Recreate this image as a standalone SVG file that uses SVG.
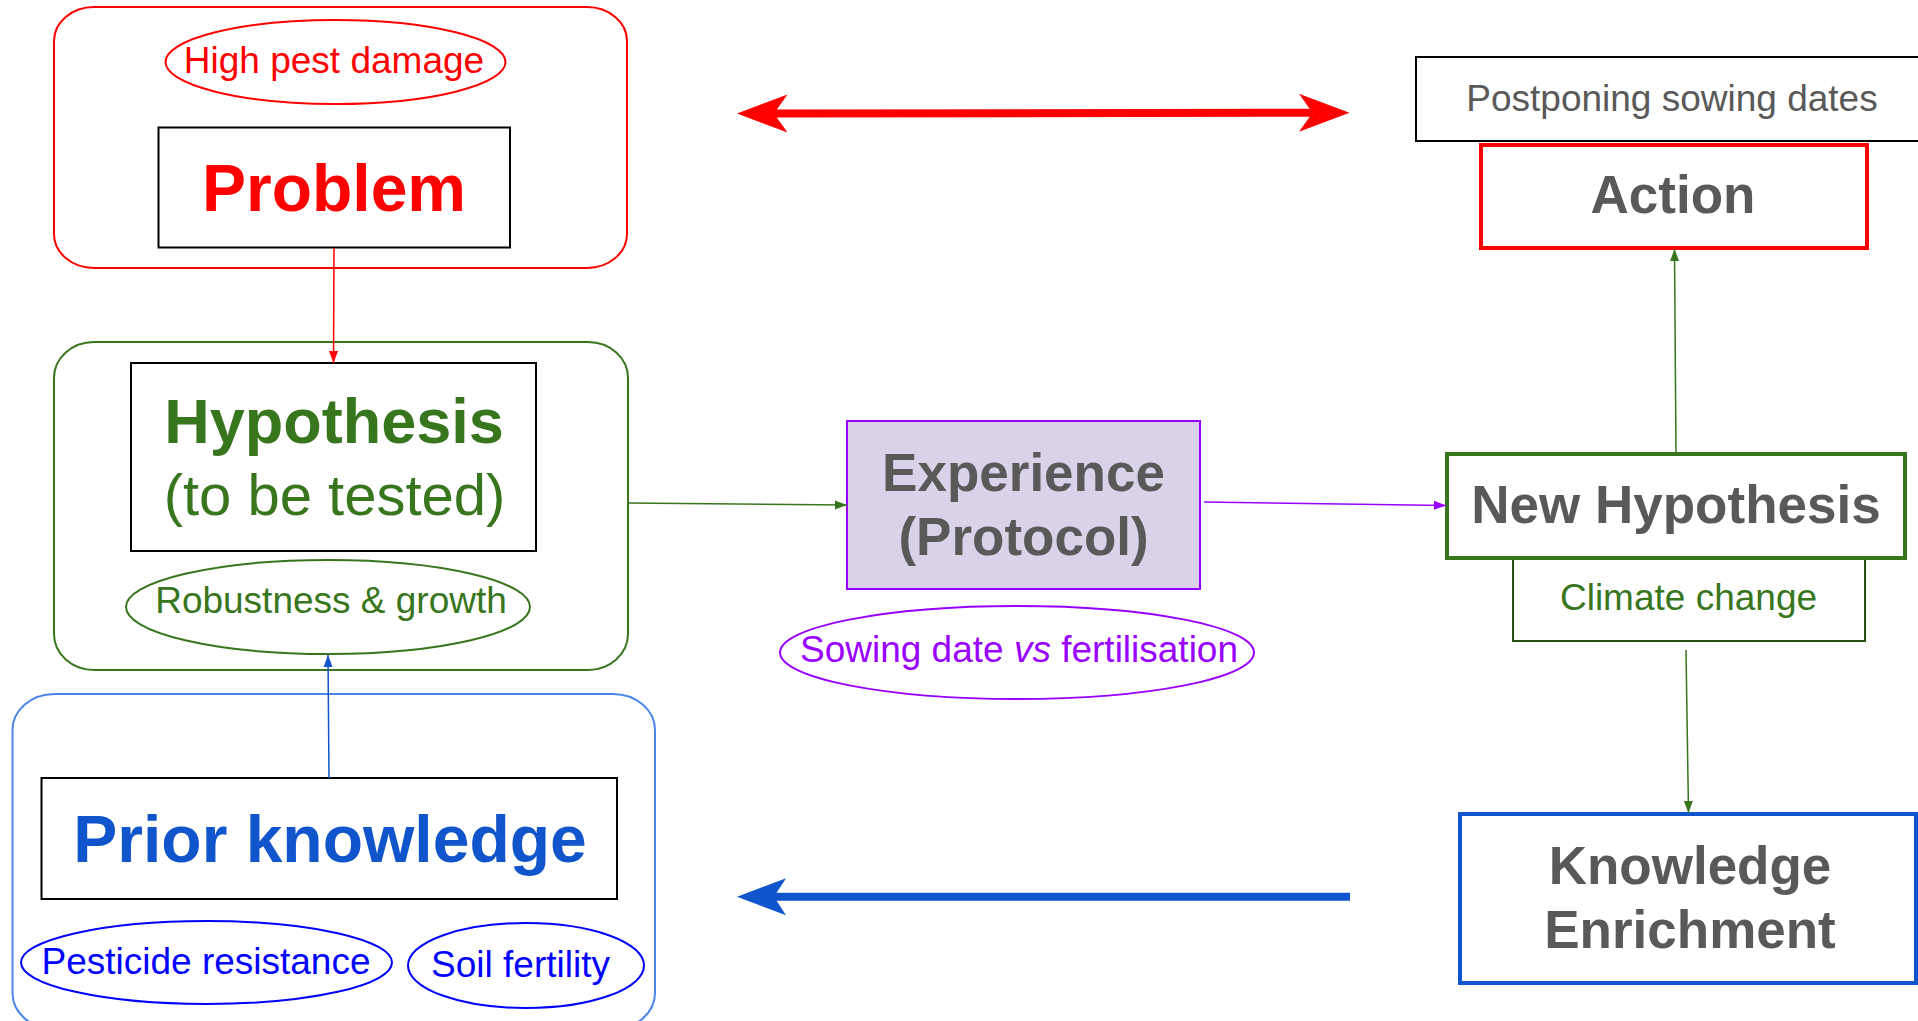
<svg xmlns="http://www.w3.org/2000/svg" width="1918" height="1021" viewBox="0 0 1918 1021">
  <defs>
    <style>
      text { font-family: "Liberation Sans", Arial, sans-serif; text-anchor: middle; }
      .frame { fill: none; stroke-width: 2; }
      .box { fill: #ffffff; stroke: #000000; stroke-width: 2; }
      .oval { fill: none; stroke-width: 2; }
      .small { font-size: 37px; }
      .title { font-weight: bold; font-size: 53px; fill: #595959; }
      .link { fill: none; stroke-width: 1.5; }
    </style>
    <!-- small connector heads -->
    <marker id="head-red" viewBox="-13 -6 14 12" markerWidth="14" markerHeight="12" refX="0" refY="0" orient="auto" markerUnits="userSpaceOnUse">
      <path d="M0,0 L-12,-4.5 L-12,4.5 Z" fill="#ff0000"/>
    </marker>
    <marker id="head-green" viewBox="-13 -6 14 12" markerWidth="14" markerHeight="12" refX="0" refY="0" orient="auto" markerUnits="userSpaceOnUse">
      <path d="M0,0 L-12,-4.5 L-12,4.5 Z" fill="#38761d"/>
    </marker>
    <marker id="head-purple" viewBox="-13 -6 14 12" markerWidth="14" markerHeight="12" refX="0" refY="0" orient="auto" markerUnits="userSpaceOnUse">
      <path d="M0,0 L-12,-4.5 L-12,4.5 Z" fill="#9900ff"/>
    </marker>
    <marker id="head-blue" viewBox="-13 -6 14 12" markerWidth="14" markerHeight="12" refX="0" refY="0" orient="auto" markerUnits="userSpaceOnUse">
      <path d="M0,0 L-12,-4.5 L-12,4.5 Z" fill="#1155cc"/>
    </marker>
    <!-- large barbed heads for the thick arrows (origin at the notch) -->
    <marker id="big-red" viewBox="-15 -20 54 40" markerWidth="54" markerHeight="40" refX="0" refY="0" orient="auto-start-reverse" markerUnits="userSpaceOnUse">
      <path d="M37,0 L-13.5,-19 L0,0 L-13.5,19 Z" fill="#ff0000"/>
    </marker>
    <marker id="big-blue" viewBox="-15 -20 54 40" markerWidth="54" markerHeight="40" refX="0" refY="0" orient="auto" markerUnits="userSpaceOnUse">
      <path d="M37,0 L-12,-18.5 L0,0 L-12,18.5 Z" fill="#1155cc"/>
    </marker>
  </defs>

  <rect width="1918" height="1021" fill="#ffffff"/>

  <!-- Problem -->
  <g id="problem">
    <rect class="frame" x="54" y="7" width="573" height="261" rx="40" ry="34" stroke="#ff0000"/>
    <ellipse class="oval" cx="335.5" cy="62" rx="170" ry="42" stroke="#ff0000"/>
    <text class="small" x="334" y="73" fill="#ff0000">High pest damage</text>
    <rect class="box" x="158.5" y="127.5" width="351.5" height="120"/>
    <text x="334" y="211" font-size="66" font-weight="bold" fill="#ff0000">Problem</text>
  </g>

  <!-- Hypothesis -->
  <g id="hypothesis">
    <rect class="frame" x="54" y="342" width="574" height="328" rx="40" ry="36" stroke="#38761d"/>
    <rect class="box" x="131" y="363" width="405" height="188"/>
    <text x="334" y="443" font-size="63" font-weight="bold" fill="#38761d">Hypothesis</text>
    <text x="334.5" y="515" font-size="58" fill="#38761d">(to be tested)</text>
    <ellipse class="oval" cx="328" cy="607" rx="202" ry="47" stroke="#38761d"/>
    <text class="small" x="331" y="613" fill="#38761d">Robustness &amp; growth</text>
  </g>

  <!-- Prior knowledge -->
  <g id="prior-knowledge">
    <rect class="frame" x="12.5" y="694" width="642.5" height="335" rx="42" ry="36" stroke="#4a86e8"/>
    <rect class="box" x="41.5" y="778" width="575.5" height="121"/>
    <text x="330" y="862" font-size="66" font-weight="bold" fill="#1155cc">Prior knowledge</text>
    <ellipse class="oval" cx="206.5" cy="962.5" rx="185.5" ry="41.5" stroke="#0000ff"/>
    <text class="small" x="206" y="974" fill="#0000ff">Pesticide resistance</text>
    <ellipse class="oval" cx="526" cy="965.5" rx="118" ry="42.5" stroke="#0000ff"/>
    <text class="small" x="520.5" y="977" fill="#0000ff">Soil fertility</text>
  </g>

  <!-- Experience -->
  <g id="experience">
    <rect x="847" y="421" width="353" height="168" fill="#d9d2e9" stroke="#9900ff" stroke-width="2"/>
    <text class="title" x="1023.5" y="491">Experience</text>
    <text class="title" x="1023.5" y="555">(Protocol)</text>
    <ellipse class="oval" cx="1017" cy="652.5" rx="237" ry="46.5" stroke="#9900ff"/>
    <text class="small" x="1019" y="662" fill="#9900ff">Sowing date <tspan font-style="italic">vs</tspan> fertilisation</text>
  </g>

  <!-- Action -->
  <g id="action">
    <rect class="box" x="1416" y="57" width="520" height="84"/>
    <text class="small" x="1672" y="110.5" fill="#595959">Postponing sowing dates</text>
    <rect x="1481" y="145" width="386" height="103" fill="#ffffff" stroke="#ff0000" stroke-width="4"/>
    <text class="title" x="1673" y="213">Action</text>
  </g>

  <!-- New hypothesis -->
  <g id="new-hypothesis">
    <rect x="1513" y="557" width="352" height="84" fill="#ffffff" stroke="#274e13" stroke-width="2"/>
    <text class="small" x="1688.5" y="610" fill="#38761d">Climate change</text>
    <rect x="1447" y="454" width="458" height="104" fill="#ffffff" stroke="#38761d" stroke-width="4"/>
    <text class="title" x="1676" y="523">New Hypothesis</text>
  </g>

  <!-- Knowledge enrichment -->
  <g id="knowledge-enrichment">
    <rect x="1460" y="814" width="456" height="169" fill="#ffffff" stroke="#1155cc" stroke-width="4"/>
    <text class="title" x="1690" y="884">Knowledge</text>
    <text class="title" x="1690" y="948">Enrichment</text>
  </g>

  <!-- Connectors -->
  <g id="connectors">
    <path class="link" d="M334,248 L333.5,363" stroke="#ff0000" marker-end="url(#head-red)"/>
    <path class="link" d="M628,503 L847,505" stroke="#38761d" marker-end="url(#head-green)"/>
    <path class="link" d="M1204,502 L1446,505.5" stroke="#9900ff" stroke-width="2" marker-end="url(#head-purple)"/>
    <path class="link" d="M1676,454 L1674.5,249" stroke="#38761d" marker-end="url(#head-green)"/>
    <path class="link" d="M1686,650 L1688.5,813" stroke="#38761d" marker-end="url(#head-green)"/>
    <path class="link" d="M329,778 L328,655" stroke="#1155cc" marker-end="url(#head-blue)"/>
    <path d="M774,113.5 L1312.5,112.8" fill="none" stroke="#ff0000" stroke-width="8" marker-start="url(#big-red)" marker-end="url(#big-red)"/>
    <path d="M1350,896.7 L774,896.7" fill="none" stroke="#1155cc" stroke-width="8" marker-end="url(#big-blue)"/>
  </g>
</svg>
